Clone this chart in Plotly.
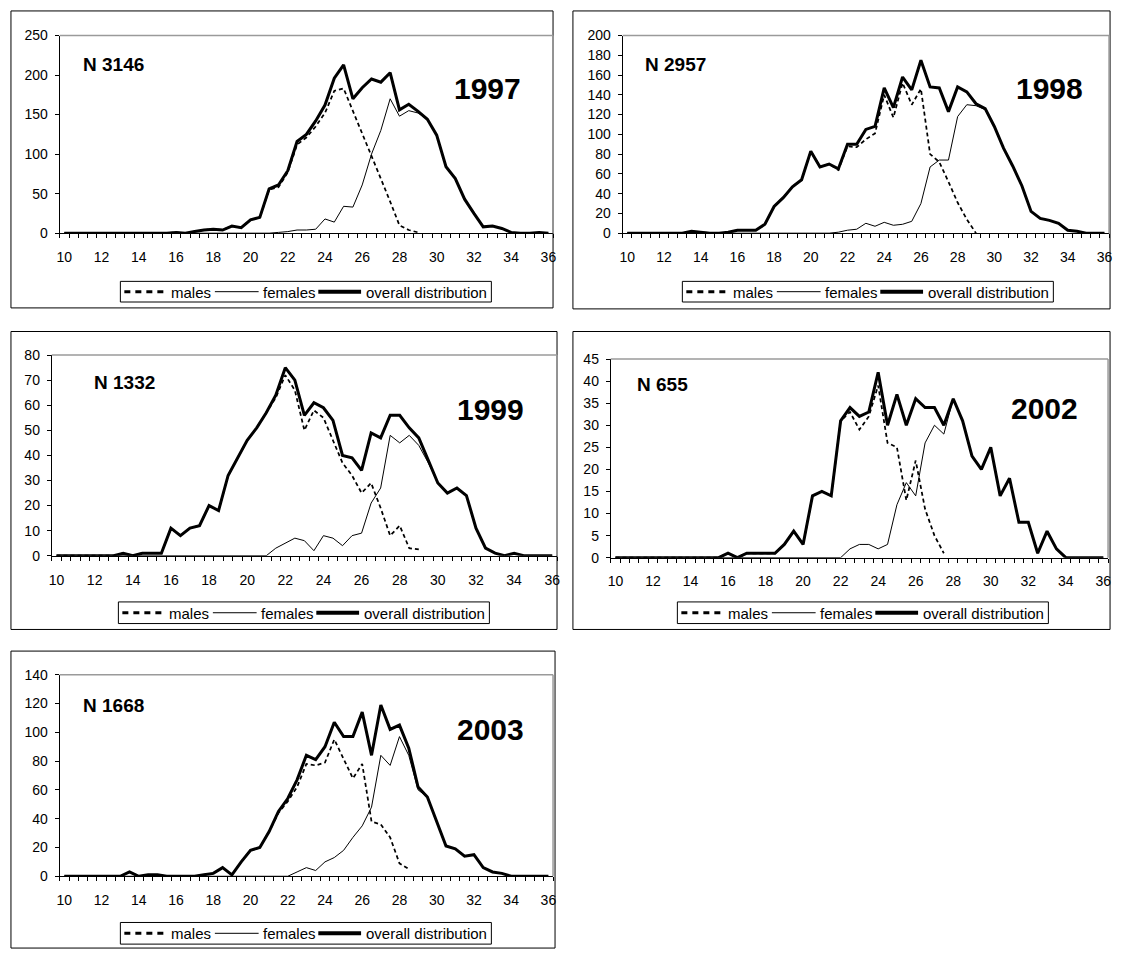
import plotly.graph_objects as go

# ---------------------------------------------------------------------------
# Length classes (cm) shared by every panel
# ---------------------------------------------------------------------------
LENGTH_CM = [10.0, 10.5, 11.0, 11.5, 12.0, 12.5, 13.0, 13.5, 14.0, 14.5,
             15.0, 15.5, 16.0, 16.5, 17.0, 17.5, 18.0, 18.5, 19.0, 19.5,
             20.0, 20.5, 21.0, 21.5, 22.0, 22.5, 23.0, 23.5, 24.0, 24.5,
             25.0, 25.5, 26.0, 26.5, 27.0, 27.5, 28.0, 28.5, 29.0, 29.5,
             30.0, 30.5, 31.0, 31.5, 32.0, 32.5, 33.0, 33.5, 34.0, 34.5,
             35.0, 35.5, 36.0]
X_TICK_LABELS = [10, 12, 14, 16, 18, 20, 22, 24, 26, 28, 30, 32, 34, 36]

# ---------------------------------------------------------------------------
# Frequencies per length class
# ---------------------------------------------------------------------------
OVERALL_1997 = [0, 0, 0, 0, 0, 0, 0, 0, 0, 0, 0, 0,
                1, 0, 2, 4, 5, 4, 9, 7, 17, 20, 56, 61, 79, 116, 125, 142, 162,
                196, 213, 170, 184, 195, 191, 203, 156, 163, 154, 144, 124, 84,
                69, 43, 25, 8, 9, 6, 1, 0, 0, 1, 0]
MALES_1997 = [0, 0, 0, 0, 0, 0, 0, 0, 0, 0, 0, 0,
              1, 0, 2, 4, 5, 4, 9, 7, 17, 20, 55, 58, 77, 112, 121, 135, 152,
              180, 183, 155, 126, 98, 69, 40, 10, 4, 1,
              None, None, None, None, None, None, None, None, None, None,
              None, None, None, None]
FEMALES_1997 = [0, 0, 0, 0, 0, 0, 0, 0, 0, 0, 0, 0, 0, 0, 0, 0, 0, 0, 0, 0,
                0, 0, 0, 1, 2, 4, 4, 5, 18, 14, 34, 33, 61, 100, 130, 170, 148,
                155, 152, 144, 124, 84, 69, 43, 25, 8, 9, 6, 1, 0, 0, 1, 0]

OVERALL_1998 = [0, 0, 0, 0, 0, 0, 0, 2, 1, 0, 0, 1,
                3, 3, 3, 9, 27, 36, 47, 54, 83, 67, 70, 65, 90, 90, 105, 108,
                147, 127, 158, 145, 175, 148, 147, 123, 148, 143, 131, 126,
                108, 86, 68, 48, 22, 15, 13, 10, 3, 2, 0, 0, 0]
MALES_1998 = [0, 0, 0, 0, 0, 0, 0, 2, 1, 0, 0, 1,
              3, 3, 3, 9, 27, 36, 47, 54, 83, 67, 70, 64, 88, 87, 95, 101,
              140, 117, 152, 130, 146, 80, 72, 52, 31, 14, 0,
              None, None, None, None, None, None, None, None, None, None,
              None, None, None, None]
FEMALES_1998 = [0, 0, 0, 0, 0, 0, 0, 0, 0, 0, 0, 0, 0, 0, 0, 0, 0, 0, 0, 0,
                0, 0, 0, 1, 3, 4, 10, 7, 11, 8, 9, 12, 30, 67, 74, 74, 118,
                130, 129, 125, 108, 86, 68, 48, 22, 15, 13, 10, 3, 2, 0, 0, 0]

OVERALL_1999 = [0, 0, 0, 0, 0, 0, 0, 1, 0, 1, 1, 1,
                11, 8, 11, 12, 20, 18, 32, 39, 46, 51, 57, 64, 75, 70, 56, 61,
                59, 54, 40, 39, 34, 49, 47, 56, 56, 51, 47, 38, 29, 25, 27, 24,
                11, 3, 1, 0, 1, 0, 0, 0, 0]
MALES_1999 = [0, 0, 0, 0, 0, 0, 0, 1, 0, 1, 1, 1,
              11, 8, 11, 12, 20, 18, 32, 39, 46, 51, 57, 63, 72, 66, 50, 58,
              55, 46, 37, 32, 25, 29, 19, 8, 12, 3, 2.5,
              None, None, None, None, None, None, None, None, None, None,
              None, None, None, None]
FEMALES_1999 = [0, 0, 0, 0, 0, 0, 0, 0, 0, 0, 0, 0, 0, 0, 0, 0, 0, 0, 0, 0,
                0, 0, 0, 3, 5, 7, 6, 2, 8, 7, 4, 8, 9, 21, 27, 48, 45, 48, 44,
                37, 29, 25, 27, 24, 11, 3, 1, 0, 1, 0, 0, 0, 0]

OVERALL_2002 = [0, 0, 0, 0, 0, 0, 0, 0, 0, 0, 0, 0,
                1, 0, 1, 1, 1, 1, 3, 6, 3, 14, 15, 14, 31, 34, 32, 33, 42, 30,
                37, 30, 36, 34, 34, 30, 36, 31, 23, 20, 25, 14, 18, 8, 8, 1,
                6, 2, 0, 0, 0, 0, 0]
MALES_2002 = [0, 0, 0, 0, 0, 0, 0, 0, 0, 0, 0, 0,
              1, 0, 1, 1, 1, 1, 3, 6, 3, 14, 15, 14, 31, 33, 29, 32, 39, 26,
              25, 13, 22, 11, 5, 1,
              None, None, None, None, None, None, None, None, None, None,
              None, None, None, None, None, None, None]
FEMALES_2002 = [0, 0, 0, 0, 0, 0, 0, 0, 0, 0, 0, 0, 0, 0, 0, 0, 0, 0, 0, 0,
                0, 0, 0, 0, 0, 2, 3, 3, 2, 3, 12, 17, 14, 26, 30, 28, 36, 31,
                23, 20, 25, 14, 18, 8, 8, 1, 6, 2, 0, 0, 0, 0, 0]

OVERALL_2003 = [0, 0, 0, 0, 0, 0, 0, 3, 0, 1, 1, 0,
                0, 0, 0, 1, 2, 6, 1, 10, 18, 20, 31, 45, 54, 67, 84, 81, 90,
                107, 97, 97, 114, 84, 119, 102, 105, 89, 62, 55, 38, 21, 19,
                14, 15, 6, 3, 2, 0, 0, 0, 0, 0]
MALES_2003 = [0, 0, 0, 0, 0, 0, 0, 3, 0, 1, 1, 0,
              0, 0, 0, 1, 2, 6, 1, 10, 18, 20, 31, 44, 52, 62, 78, 77, 79,
              95, 82, 68, 78, 38, 36, 27, 9, 5,
              None, None, None, None, None, None, None, None, None, None,
              None, None, None, None, None]
FEMALES_2003 = [0, 0, 0, 0, 0, 0, 0, 0, 0, 0, 0, 0, 0, 0, 0, 0, 0, 0, 0, 0,
                0, 0, 0, 0, 0, 3, 6, 4, 10, 13, 18, 27, 35, 48, 84, 77, 97, 84,
                60, 55, 38, 21, 19, 14, 15, 6, 3, 2, 0, 0, 0, 0, 0]

YEARS = ["1997", "1998", "1999", "2002", "2003"]
SAMPLE_SIZES = ["N 3146", "N 2957", "N 1332", "N 655", "N 1668"]
Y_MAX = [250, 200, 80, 45, 140]
Y_STEP = [50, 20, 10, 5, 20]
SERIES = [
    (MALES_1997, FEMALES_1997, OVERALL_1997),
    (MALES_1998, FEMALES_1998, OVERALL_1998),
    (MALES_1999, FEMALES_1999, OVERALL_1999),
    (MALES_2002, FEMALES_2002, OVERALL_2002),
    (MALES_2003, FEMALES_2003, OVERALL_2003),
]
LEGEND_NAMES = ["males", "females", "overall distribution"]

# ---------------------------------------------------------------------------
# Page geometry (pixels, origin top-left)
# ---------------------------------------------------------------------------
W, H = 1122, 959
FONT = "Arial, 'Liberation Sans', Helvetica, sans-serif"

PANELS = [
    # frame box, plot box (x0, x1, ytop, ybottom), N label, year label, legend box
    dict(frame=(8, 3, 553, 305), plot=(57, 553, 28, 229),
         n_pos=(78, 57), year_pos=(487, 82), legend=(118, 278, 299)),
    dict(frame=(573, 3, 1113, 306), plot=(623, 1112, 28, 229),
         n_pos=(643, 57), year_pos=(1052, 82), legend=(683, 278, 299)),
    dict(frame=(8, 329, 557, 632), plot=(49, 557, 353, 557),
         n_pos=(89, 381), year_pos=(490, 408), legend=(116, 604, 626)),
    dict(frame=(573, 329, 1113, 632), plot=(611, 1111, 357, 559),
         n_pos=(635, 383), year_pos=(1047, 407), legend=(678, 604, 626)),
    dict(frame=(8, 654, 555, 956), plot=(57, 553, 678, 883),
         n_pos=(78, 709), year_pos=(490, 734), legend=(118, 930, 952)),
]


def fx(px):
    return px / W


def fy(py):
    return 1 - py / H


fig = go.Figure()
shapes = []
annotations = []

for i, (panel, series) in enumerate(zip(PANELS, SERIES), start=1):
    xa = "x" if i == 1 else f"x{i}"
    ya = "y" if i == 1 else f"y{i}"
    males, females, overall = series

    fig.add_trace(go.Scatter(
        x=LENGTH_CM, y=males, name="males", mode="lines",
        line=dict(color="black", width=1.75, dash="4px,3px"),
        xaxis=xa, yaxis=ya, showlegend=False))
    fig.add_trace(go.Scatter(
        x=LENGTH_CM, y=females, name="females", mode="lines",
        line=dict(color="black", width=1),
        xaxis=xa, yaxis=ya, showlegend=False))
    fig.add_trace(go.Scatter(
        x=LENGTH_CM, y=overall, name="overall distribution", mode="lines",
        line=dict(color="black", width=3),
        xaxis=xa, yaxis=ya, showlegend=False))

    px0, px1, pyt, pyb = panel["plot"]
    xkey = "xaxis" if i == 1 else f"xaxis{i}"
    ykey = "yaxis" if i == 1 else f"yaxis{i}"
    tickfont = dict(family=FONT, size=14, color="black")
    fig.update_layout({
        xkey: dict(
            domain=[fx(px0), fx(px1)], anchor=ya,
            range=[9.75, 36.25], tickmode="array",
            tickvals=X_TICK_LABELS, ticktext=[str(v) for v in X_TICK_LABELS],
            ticks="", showline=True, linecolor="black", linewidth=1,
            showgrid=False, zeroline=False, tickfont=tickfont,
            ticklabelstandoff=11,
            minor=dict(tickmode="linear", tick0=9.75, dtick=0.5,
                       ticks="outside", ticklen=4, tickwidth=1,
                       tickcolor="black", showgrid=False),
            fixedrange=True),
        ykey: dict(
            domain=[fy(pyb), fy(pyt)], anchor=xa,
            range=[0, Y_MAX[i - 1]], tickmode="linear", tick0=0,
            dtick=Y_STEP[i - 1], ticks="outside", ticklen=4, tickwidth=1,
            tickcolor="black", showline=True, linecolor="black", linewidth=1,
            showgrid=False, zeroline=False, tickfont=tickfont,
            ticklabelstandoff=4, fixedrange=True),
    })

    # outer frame of the panel
    fx0, fy0, fx1, fy1 = panel["frame"]
    shapes.append(dict(type="rect", xref="paper", yref="paper",
                       x0=fx(fx0), x1=fx(fx1), y0=fy(fy1), y1=fy(fy0),
                       line=dict(color="black", width=1), layer="above"))
    # grey top and right border of the plotting area
    shapes.append(dict(type="line", xref="paper", yref="paper",
                       x0=fx(px0), x1=fx(px1), y0=fy(pyt), y1=fy(pyt),
                       line=dict(color="#9a9a9a", width=1.5)))
    shapes.append(dict(type="line", xref="paper", yref="paper",
                       x0=fx(px1), x1=fx(px1), y0=fy(pyt), y1=fy(pyb),
                       line=dict(color="#9a9a9a", width=1.5)))

    # sample size and year captions
    nx, ny = panel["n_pos"]
    annotations.append(dict(text=f"<b>{SAMPLE_SIZES[i - 1]}</b>",
                            xref="paper", yref="paper", x=fx(nx), y=fy(ny),
                            xanchor="left", yanchor="middle", showarrow=False,
                            font=dict(family=FONT, size=19, color="black")))
    yx, yy = panel["year_pos"]
    annotations.append(dict(text=f"<b>{YEARS[i - 1]}</b>",
                            xref="paper", yref="paper", x=fx(yx), y=fy(yy),
                            xanchor="center", yanchor="middle", showarrow=False,
                            font=dict(family=FONT, size=30, color="black")))

    # boxed key below each panel
    lx, lt, lb = panel["legend"]
    lw = 373
    lm = (lt + lb) / 2
    shapes.append(dict(type="rect", xref="paper", yref="paper",
                       x0=fx(lx), x1=fx(lx + lw), y0=fy(lb), y1=fy(lt),
                       line=dict(color="black", width=1), fillcolor="white"))
    keys = [
        (4, 46, dict(color="black", width=3, dash="6px,5px"), 49),
        (95, 139, dict(color="black", width=1), 141),
        (199, 242, dict(color="black", width=4), 245),
    ]
    for (k0, k1, kline, tx), label in zip(keys, LEGEND_NAMES):
        shapes.append(dict(type="line", xref="paper", yref="paper",
                           x0=fx(lx + k0), x1=fx(lx + k1),
                           y0=fy(lm), y1=fy(lm), line=kline))
        annotations.append(dict(text=label, xref="paper", yref="paper",
                                x=fx(lx + tx), y=fy(lm + 0.5),
                                xanchor="left", yanchor="middle",
                                showarrow=False,
                                font=dict(family=FONT, size=15,
                                          color="black")))

fig.update_layout(
    width=W, height=H,
    margin=dict(l=0, r=0, t=0, b=0),
    paper_bgcolor="white", plot_bgcolor="white",
    showlegend=False,
    shapes=shapes, annotations=annotations,
    font=dict(family=FONT, color="black"),
)

fig.write_html("out.html")
